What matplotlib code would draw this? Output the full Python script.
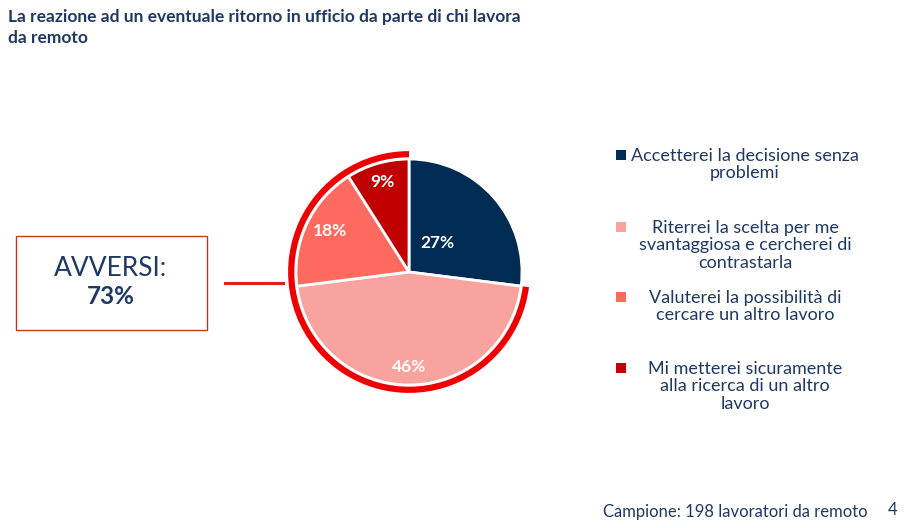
import matplotlib
matplotlib.use("Agg")
import matplotlib.pyplot as plt
from matplotlib.patches import Wedge, Rectangle
import numpy as np

plt.rcParams['font.family'] = ['Lato', 'DejaVu Sans']

# ---- data ----
categories = [
    "Accetterei la decisione senza\nproblemi",
    "Riterrei la scelta per me\nsvantaggiosa e cercherei di\ncontrastarla",
    "Valuterei la possibilità di\ncercare un altro lavoro",
    "Mi metterei sicuramente\nalla ricerca di un altro\nlavoro",
]
values = [27, 46, 18, 9]
pct_labels = ["27%", "46%", "18%", "9%"]
avversi_label = "AVVERSI:"
avversi_value = "73%"
title = "La reazione ad un eventuale ritorno in ufficio da parte di chi lavora\nda remoto"
footer = "Campione: 198 lavoratori da remoto"
page = "4"

colors = ["#002B52", "#F8A39D", "#FF6A60", "#C00000"]
navy_text = "#1F3864"
ring_color = "#EE0000"

W, H = 908, 528
fig = plt.figure(figsize=(W / 100, H / 100), dpi=100)

def fx(x):
    return x / W

def fy(y):
    return 1 - y / H

# pie axes: center (409,272) radius 113 px
cx, cy, R = 409, 272, 113
half = 140
ax = fig.add_axes([fx(cx - half), fy(cy + half), 2 * half / W, 2 * half / H])
lim = half / R

wedges, _ = ax.pie(values, colors=colors, startangle=90, counterclock=False,
                   radius=1.0, wedgeprops=dict(edgecolor='white', linewidth=2),
                   frame=True)
ax.set_xlim(-lim, lim)
ax.set_ylim(-lim, lim)
ax.set_aspect('equal')
ax.axis('off')

# percentage labels (radius, angle offset in degrees)
label_r = [0.36, 0.84, 0.79, 0.83]
label_da = [5, 0, -2, 0]
for w, lab, r, da in zip(wedges, pct_labels, label_r, label_da):
    mid = np.deg2rad((w.theta1 + w.theta2) / 2 + da)
    ax.text(r * np.cos(mid), r * np.sin(mid), lab, color='white',
            fontsize=12.5, fontweight='bold', ha='center', va='center')

# red ring around the "averse" share (all but the first slice)
t_start = wedges[0].theta1
ring = Wedge((0, 0), 1.07, 90, t_start if t_start > 90 else t_start + 360,
             width=0.055, facecolor=ring_color, edgecolor='none')
ax.add_patch(ring)

# title
fig.text(fx(8), fy(9), title, color=navy_text, fontsize=12.5, fontweight='bold',
         ha='left', va='top', linespacing=1.4)

# AVVERSI box
box = Rectangle((fx(16), fy(330)), fx(207) - fx(16), fy(236) - fy(330),
                transform=fig.transFigure, facecolor='white',
                edgecolor='#C0392B', linewidth=1.0)
fig.add_artist(box)
fig.text(fx(111), fy(269), avversi_label, color=navy_text, fontsize=19,
         ha='center', va='center')
fig.text(fx(111), fy(297), avversi_value, color=navy_text, fontsize=17.5,
         fontweight='bold', ha='center', va='center')

# connector line
fig.add_artist(plt.Line2D([fx(225), fx(283)], [fy(283), fy(283)],
                          transform=fig.transFigure, color='#E02020', linewidth=2.2))

# legend
leg_y = [148, 220, 290, 361]
for col, lab, y in zip(colors, categories, leg_y):
    sq = Rectangle((fx(616), fy(y + 12)), fx(10), 10 / H, transform=fig.transFigure,
                   facecolor=col, edgecolor='none')
    fig.add_artist(sq)
    fig.text(fx(745), fy(y), lab, color=navy_text, fontsize=13,
             ha='center', va='top', multialignment='center', linespacing=1.1)

# footer
fig.text(fx(868), fy(512), footer, color=navy_text, fontsize=12,
         ha='right', va='center')
fig.text(fx(893), fy(510), page, color=navy_text, fontsize=12,
         ha='center', va='center')

fig.savefig("out.png", dpi=100)
